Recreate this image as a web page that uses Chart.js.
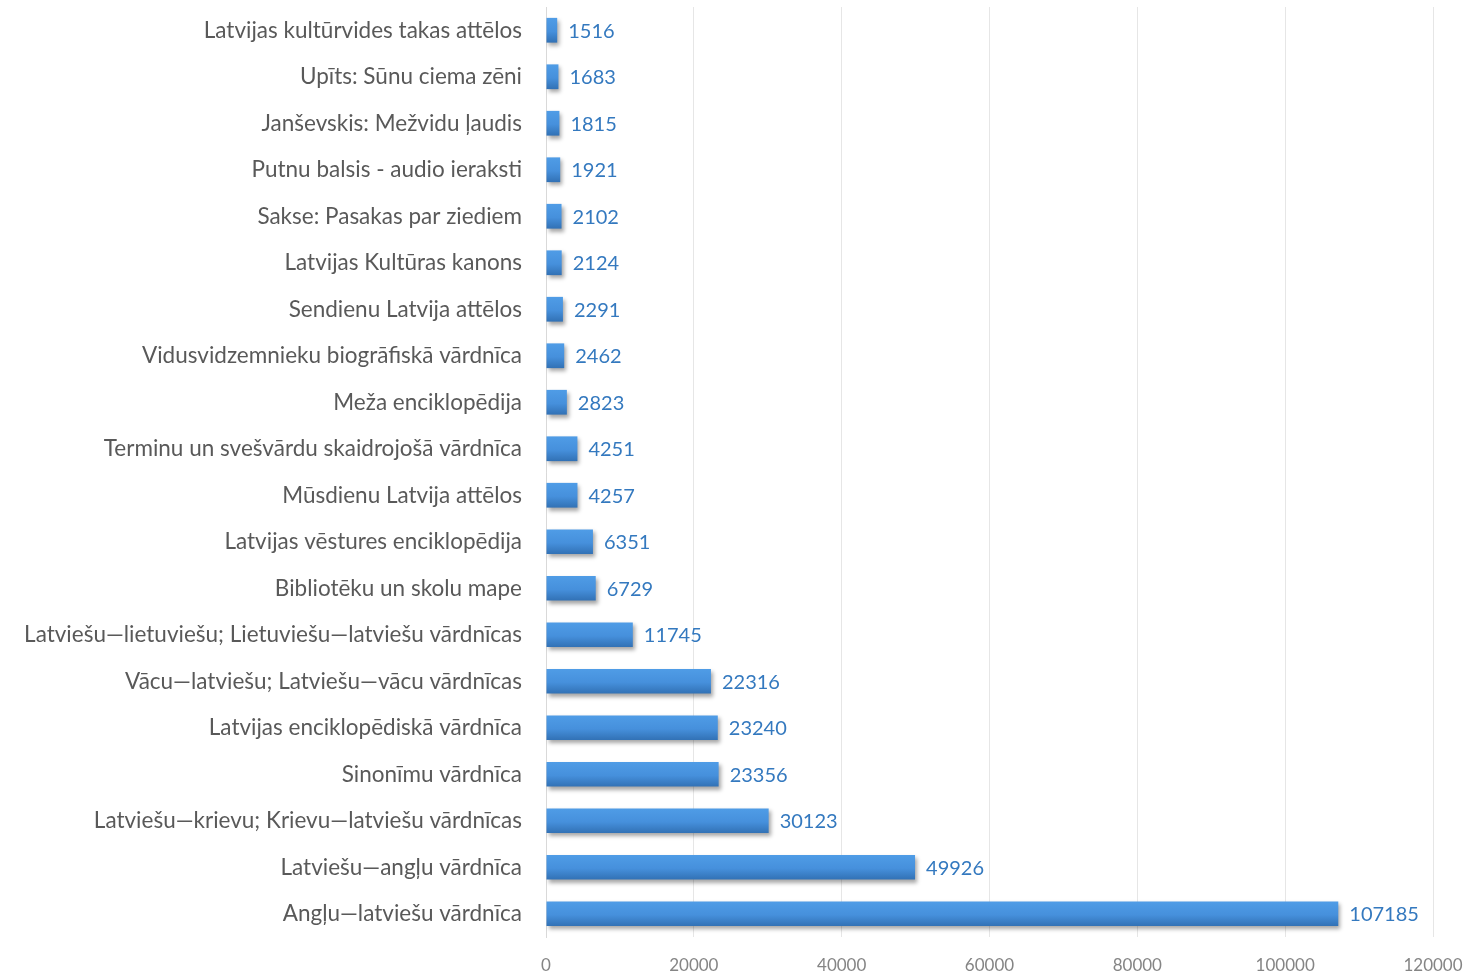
<!DOCTYPE html>
<html lang="lv">
<head>
  <meta charset="UTF-8">
  <title>Vārdnīcas un krājumi</title>
  <script src="https://cdn.jsdelivr.net/npm/chart.js"></script>
  <style>
    html, body { margin: 0; padding: 0; background: #fff; }
    #wrap { width: 1468px; height: 974px; }
  </style>
</head>
<body>
<div id="wrap"><canvas id="grafiks"></canvas></div>
<script>
  const nosaukumi = [
    'Latvijas kultūrvides takas attēlos',
    'Upīts: Sūnu ciema zēni',
    'Janševskis: Mežvidu ļaudis',
    'Putnu balsis - audio ieraksti',
    'Sakse: Pasakas par ziediem',
    'Latvijas Kultūras kanons',
    'Sendienu Latvija attēlos',
    'Vidusvidzemnieku biogrāfiskā vārdnīca',
    'Meža enciklopēdija',
    'Terminu un svešvārdu skaidrojošā vārdnīca',
    'Mūsdienu Latvija attēlos',
    'Latvijas vēstures enciklopēdija',
    'Bibliotēku un skolu mape',
    'Latviešu—lietuviešu; Lietuviešu—latviešu vārdnīcas',
    'Vācu—latviešu; Latviešu—vācu vārdnīcas',
    'Latvijas enciklopēdiskā vārdnīca',
    'Sinonīmu vārdnīca',
    'Latviešu—krievu; Krievu—latviešu vārdnīcas',
    'Latviešu—angļu vārdnīca',
    'Angļu—latviešu vārdnīca'
  ];
  const vertibas = [1516, 1683, 1815, 1921, 2102, 2124, 2291, 2462, 2823, 4251,
                    4257, 6351, 6729, 11745, 22316, 23240, 23356, 30123, 49926, 107185];

  const teksts = '#595959';
  const fonts = 'Lato, "Open Sans", sans-serif';

  // skaitļi pie stabiņu galiem
  const etiketes = {
    id: 'etiketes',
    afterDatasetsDraw(chart) {
      const ctx = chart.ctx;
      const meta = chart.getDatasetMeta(0);
      ctx.save();
      ctx.font = '20px ' + fonts;
      ctx.fillStyle = '#3479bf';
      ctx.textAlign = 'left';
      ctx.textBaseline = 'middle';
      meta.data.forEach((bar, i) => {
        ctx.fillText(String(vertibas[i]), bar.x + 11, bar.y + 1);
      });
      ctx.restore();
    }
  };

  // ēna zem stabiņiem
  const ena = {
    id: 'ena',
    beforeDatasetsDraw(chart) {
      const ctx = chart.ctx;
      ctx.save();
      ctx.shadowColor = 'rgba(0,0,0,0.35)';
      ctx.shadowBlur = 4;
      ctx.shadowOffsetX = 2;
      ctx.shadowOffsetY = 3;
    },
    afterDatasetsDraw(chart) {
      chart.ctx.restore();
    }
  };

  function krasa(context) {
    const chart = context.chart;
    const ys = chart.scales && chart.scales.y;
    if (!chart.chartArea || !ys) return '#4a90d9';
    const yc = ys.getPixelForValue(context.dataIndex);
    if (!Number.isFinite(yc)) return '#4a90d9';
    const h = 12;
    const g = chart.ctx.createLinearGradient(0, yc - h, 0, yc + h);
    g.addColorStop(0, '#4f9ce6');
    g.addColorStop(0.55, '#4690dc');
    g.addColorStop(1, '#3272b6');
    return g;
  }

  new Chart(document.getElementById('grafiks'), {
    type: 'bar',
    data: {
      labels: nosaukumi,
      datasets: [{
        data: vertibas,
        backgroundColor: krasa,
        borderWidth: 0,
        barPercentage: 0.56,
        categoryPercentage: 0.95
      }]
    },
    options: {
      indexAxis: 'y',
      responsive: true,
      maintainAspectRatio: false,
      animation: false,
      layout: { padding: { top: 7, right: 35, left: 0, bottom: 0 } },
      plugins: {
        legend: { display: false },
        tooltip: { enabled: false }
      },
      scales: {
        x: {
          min: 0,
          max: 120000,
          ticks: {
            stepSize: 20000,
            color: '#858585',
            font: { family: fonts, size: 17 },
            padding: 18,
            callback: (v) => String(v)
          },
          grid: { color: '#e6e6e6', drawTicks: false },
          border: { display: false },
          afterFit(scale) {
            scale.height = 37;
            scale.paddingLeft = 0;
            scale.paddingRight = 0;
          }
        },
        y: {
          ticks: {
            color: teksts,
            font: { family: fonts, size: 22.5 },
            padding: 24
          },
          grid: { display: false, drawTicks: false },
          border: { display: true, color: '#d9d9d9' },
          afterFit(scale) {
            scale.width = 546;
            scale.paddingTop = 0;
            scale.paddingBottom = 0;
          }
        }
      }
    },
    plugins: [ena, etiketes]
  });
</script>
</body>
</html>
